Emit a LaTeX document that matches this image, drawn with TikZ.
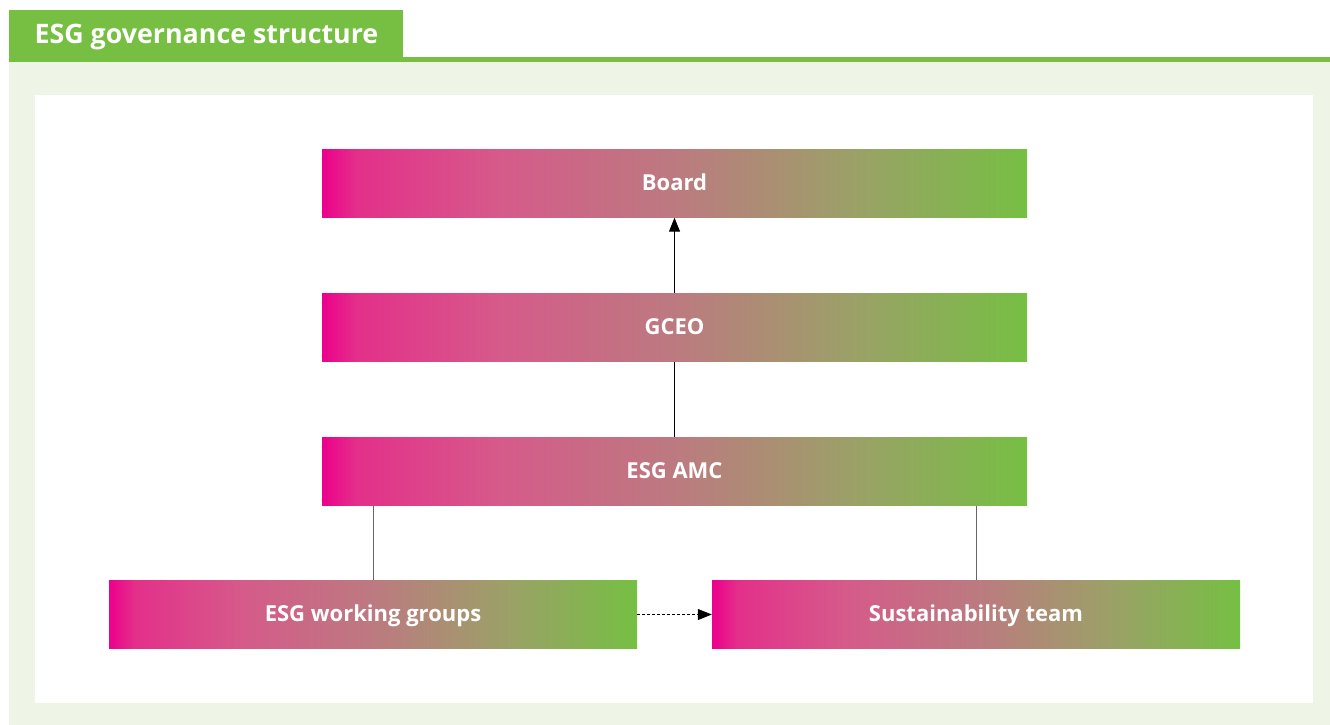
\documentclass[tikz,border=0pt]{standalone}
\usepackage{fontspec}
\setmainfont{Open Sans}
\usetikzlibrary{arrows.meta}

\definecolor{esgmagenta}{HTML}{EC008C}
\definecolor{esggreen}{HTML}{76BF43}
\definecolor{esgpale}{HTML}{EEF5E6}
\definecolor{esgpinkA}{HTML}{E3308A}
\definecolor{esgpinkB}{HTML}{D65A8A}
\definecolor{esgmid}{HTML}{BC7A80}
\definecolor{esgolive}{HTML}{9CA068}

\pgfdeclarehorizontalshading{esgfade}{100bp}{color(0bp)=(esgmagenta);
  color(25bp)=(esgmagenta); color(27.5bp)=(esgpinkA); color(37.5bp)=(esgpinkB);
  color(50bp)=(esgmid); color(62.5bp)=(esgolive); color(75bp)=(esggreen);
  color(100bp)=(esggreen)}

\tikzset{
  orgbox/.style={rectangle, minimum height=68pt, inner sep=0pt,
    text height=14pt, text depth=0pt,
    shading=esgfade, shading angle=0, text=white,
    font=\fontsize{22}{24}\selectfont\bfseries},
  link/.style={draw=black, line width=1pt},
  tip/.style={-{Triangle[length=14pt,width=11pt]}}
}

\begin{document}
\begin{tikzpicture}[x=1pt, y=-1pt]
  \useasboundingbox (0,0) rectangle (1330,725);
  % frame
  \fill[esgpale] (9,62) rectangle (1330,725);
  \fill[esggreen] (403,57) rectangle (1330,62);
  \fill[esggreen] (9,10) rectangle (403,62);
  \node[anchor=west, text=white, font=\fontsize{26.8}{30}\selectfont\bfseries]
    (title) at (31,37) {ESG governance structure};
  \fill[white] (35,95) rectangle (1313,703);

  % boxes
  \node[orgbox, minimum width=705pt] (board) at (674.5,183.5) {Board};
  \node[orgbox, minimum width=705pt] (gceo) at (674.5,327.5) {GCEO};
  \node[orgbox, minimum width=705pt] (amc) at (674.5,471.5) {ESG AMC};
  \node[orgbox, minimum width=528pt] (wg) at (373,614.5) {ESG working groups};
  \node[orgbox, minimum width=528pt] (team) at (976,614.5) {Sustainability team};

  % links
  \draw[link, tip] (gceo) -- (board);
  \draw[link] (amc) -- (gceo);
  \draw[link, draw=black!60] (wg.north) -- (wg.north |- amc.south);
  \draw[link, draw=black!60] (team.north) -- (team.north |- amc.south);
  \draw[link, tip, dash pattern=on 3pt off 2pt] (wg) -- (team);
\end{tikzpicture}
\end{document}
